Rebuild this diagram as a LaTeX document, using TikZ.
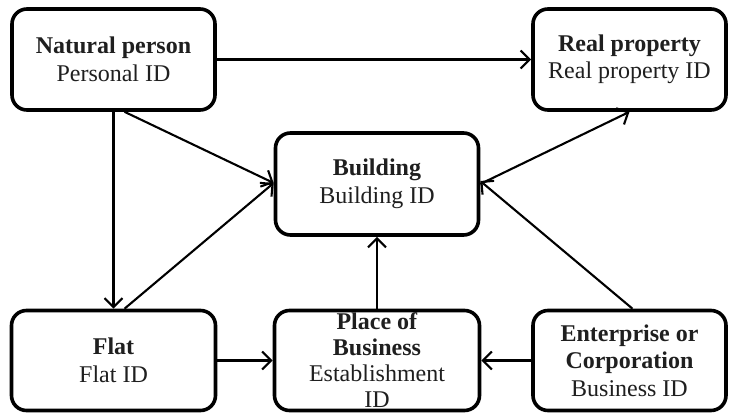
\documentclass[tikz,border=0pt]{standalone}
\usepackage{fontspec}
\setmainfont{Liberation Serif}
\usetikzlibrary{arrows.meta}
\begin{document}
\begin{tikzpicture}[x=1pt,y=-1pt,
  entity/.style={draw=black, line width=3.6pt, rounded corners=15pt, fill=white,
    inner sep=0pt, align=center, text=black!88,
    font=\fontsize{24}{27.5}\selectfont},
  link/.style={line width=2.1pt, -{Straight Barb[length=9pt,width=18pt]}}]
  \useasboundingbox (0,0) rectangle (729,413);

  % entity boxes
  \node[entity, minimum width=203pt, minimum height=101pt] (np) at (113.5,59.5)
    {\textbf{Natural person}\\Personal ID};
  \node[entity, minimum width=193pt, minimum height=101pt] (rp) at (629.5,59.5)
    {\textbf{Real property}\\Real property ID};
  \node[entity, minimum width=203pt, minimum height=102pt] (bld) at (377,184)
    {\textbf{Building}\\Building ID};
  \node[entity, minimum width=204pt, minimum height=100pt] (flat) at (113.5,360.5)
    {\textbf{Flat}\\Flat ID};
  \node[entity, minimum width=205pt, minimum height=100pt,
    font=\fontsize{24}{26}\selectfont] (pob) at (377,360.5)
    {\textbf{Place of}\\\textbf{Business}\\Establishment\\ID};
  \node[entity, minimum width=193pt, minimum height=100pt] (ent) at (629.5,360.5)
    {\textbf{Enterprise or}\\\textbf{Corporation}\\Business ID};

  % relations
  \draw[link] (np.east) -- (rp.west);
  \draw[link] ([xshift=11pt]np.south) -- ([yshift=1pt]bld.west);
  \draw[link] (np.south) -- (flat.north);
  \draw[link] ([xshift=11pt]flat.north) -- ([yshift=1pt]bld.west);
  \draw[link] (flat.east) -- (pob.west);
  \draw[link] (pob.north) -- (bld.south);
  \draw[link] (ent.west) -- (pob.east);
  \draw[link] ([xshift=3pt]ent.north) -- ([yshift=3pt]bld.east);
  \draw[link] (bld.east) -- (rp.south);
\end{tikzpicture}
\end{document}
